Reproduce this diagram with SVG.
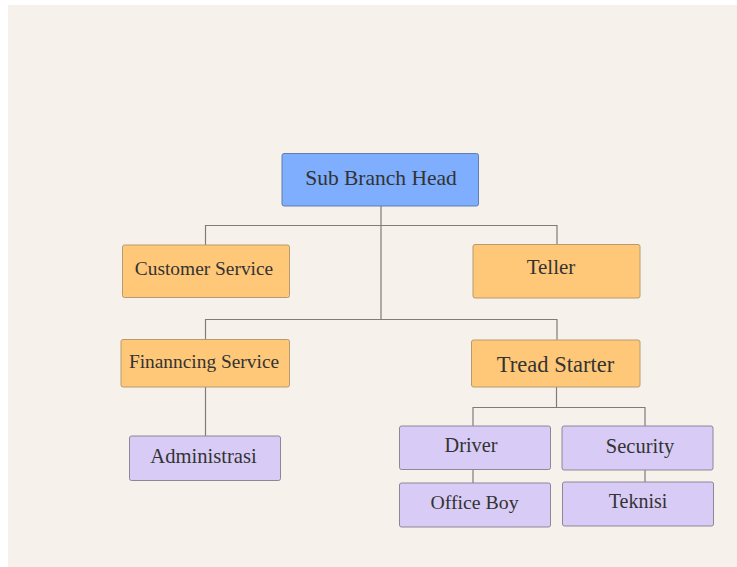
<svg xmlns="http://www.w3.org/2000/svg" width="737" height="567" viewBox="0 0 737 567">
<style>
.box{stroke-width:1}
.blue{fill:#7eaefd;stroke:#5f7fae}
.orange{fill:#ffc878;stroke:#b79a72}
.purple{fill:#d8ccf6;stroke:#8c8696}
.t{font-family:"Liberation Serif","Times New Roman",serif;fill:#333333;text-anchor:middle}
.c{fill:none;stroke:#7d7d7d;stroke-width:1.2}
</style>
<rect x="0" y="0" width="737" height="567" fill="#ffffff"/>
<rect x="8" y="5" width="729" height="562" fill="#f6f2eb"/>
<g id="connectors">
<path class="c" d="M381 206 V319.5 M205.5 245 V225.5 H557 V244 M205.5 339 V319.5 H557 V340 M205.5 387 V436 M556.5 387 V407.5 M473 426 V407.5 H645 V426 M473 470 V483 M645 470 V482"/>
</g>
<g id="n-sub-branch-head">
<rect class="box blue" x="282" y="153.5" width="196.5" height="52.5" rx="2"/>
<text class="t" x="381" y="184.5" font-size="21.5">Sub Branch Head</text>
</g>
<g id="n-customer-service">
<rect class="box orange" x="122.5" y="245" width="167" height="52.5" rx="2"/>
<text class="t" x="204" y="275" font-size="19.4">Customer Service</text>
</g>
<g id="n-teller">
<rect class="box orange" x="473" y="244.5" width="167" height="53.5" rx="2"/>
<text class="t" x="551" y="274" font-size="21">Teller</text>
</g>
<g id="n-financing-service">
<rect class="box orange" x="121" y="339.5" width="168.5" height="47.5" rx="2"/>
<text class="t" x="204" y="367.5" font-size="19.4">Finanncing Service</text>
</g>
<g id="n-tread-starter">
<rect class="box orange" x="471.5" y="340" width="168.5" height="47" rx="2"/>
<text class="t" x="555.5" y="371.5" font-size="22.5">Tread Starter</text>
</g>
<g id="n-administrasi">
<rect class="box purple" x="129.5" y="436" width="151" height="44.5" rx="2"/>
<text class="t" x="203.5" y="462.5" font-size="20.6">Administrasi</text>
</g>
<g id="n-driver">
<rect class="box purple" x="399.5" y="426" width="151" height="43.5" rx="2"/>
<text class="t" x="471" y="452" font-size="20.3">Driver</text>
</g>
<g id="n-security">
<rect class="box purple" x="562" y="426" width="151" height="44" rx="2"/>
<text class="t" x="640" y="453.3" font-size="20.5">Security</text>
</g>
<g id="n-office-boy">
<rect class="box purple" x="399.5" y="483" width="151" height="44" rx="2"/>
<text class="t" x="474.5" y="509.3" font-size="19.8">Office Boy</text>
</g>
<g id="n-teknisi">
<rect class="box purple" x="562.5" y="482" width="151" height="44" rx="2"/>
<text class="t" x="638" y="507.7" font-size="20">Teknisi</text>
</g>
</svg>
